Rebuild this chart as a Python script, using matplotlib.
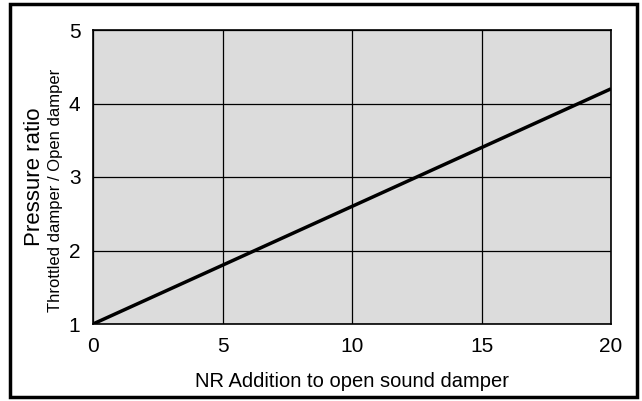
import matplotlib
matplotlib.use("Agg")
import matplotlib.pyplot as plt
from matplotlib.patches import Rectangle

nr_addition = [0, 5, 10, 15, 20]
pressure_ratio = [1.0, 1.8, 2.6, 3.4, 4.2]
x_ticks = [0, 5, 10, 15, 20]
y_ticks = [1, 2, 3, 4, 5]

plt.rcParams['font.family'] = ['Liberation Sans', 'DejaVu Sans']

W, H = 642, 401
fig = plt.figure(figsize=(W/100, H/100), dpi=100)
ax = fig.add_axes([93/W, 1-324/H, (611-93)/W, (324-30)/H])
ax.set_facecolor('#dcdcdc')
ax.plot(nr_addition, pressure_ratio, color='black', lw=2.5, solid_capstyle='butt', zorder=3)
ax.set_xlim(0, 20)
ax.set_ylim(1, 5)
ax.set_xticks(x_ticks)
ax.set_yticks(y_ticks)
ax.grid(True, color='black', lw=0.9)
ax.set_axisbelow(True)
ax.tick_params(length=0, labelsize=15, pad=9)
ax.tick_params(axis='x', pad=9)
for s in ax.spines.values():
    s.set_linewidth(1.2)
ax.set_xlabel('NR Addition to open sound damper', fontsize=14.5, labelpad=12)

fig.text(34/W, 1-177/H, 'Pressure ratio', rotation=90, fontsize=16, ha='center', va='center')
fig.text(56/W, 1-190/H, 'Throttled damper / Open damper', rotation=90, fontsize=12, ha='center', va='center')

fig.patches.append(Rectangle((10/W, 4/H), (637-10)/W, (397-4)/H, transform=fig.transFigure,
                             fill=False, edgecolor='black', lw=2.5))
fig.savefig('out.png', dpi=100)
